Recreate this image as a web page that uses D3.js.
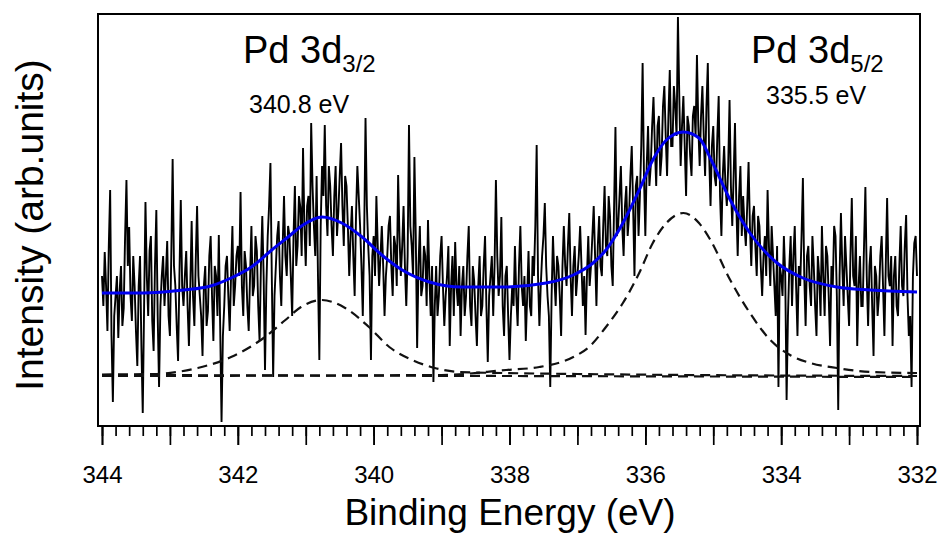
<!DOCTYPE html>
<html>
<head>
<meta charset="utf-8">
<script src="https://cdn.jsdelivr.net/npm/d3@7/dist/d3.min.js"></script>
<style>
	body { margin: 0; background: #fff; }
	text { font-family: "Liberation Sans", Arial, sans-serif; fill: #000; }
</style>
</head>
<body>
<svg id="chart" width="940" height="533"></svg>
<script>
// =================================================
// data (intensity in arbitrary units)
// =================================================
var energyStart = 344,
	energyStep = 0.02;

// raw spectrum, one value per energy step from 344 eV down to 332 eV
var counts = [
	150,120,174,140,95,180,236,90,24,110,130,150,88,135,160,100,118,190,246,160,
	199,130,105,170,140,95,60,140,170,80,13,120,224,150,110,175,190,105,75,160,
	216,110,39,120,150,170,120,150,185,110,90,170,267,160,140,100,65,150,226,140,
	120,150,175,120,80,140,205,130,100,165,220,150,130,110,70,140,160,100,115,170,
	190,130,85,160,150,110,191,100,4,90,120,160,170,130,95,150,200,120,140,170,
	180,150,234,140,110,175,160,120,95,150,200,130,140,190,175,120,85,160,210,150,
	56,140,190,220,263,150,49,130,160,190,205,150,120,180,230,170,150,200,190,150,
	110,190,240,160,180,230,219,170,278,200,160,220,230,180,303,240,200,170,250,150,
	66,200,260,230,301,220,190,260,240,200,170,230,260,190,215,250,283,220,180,250,
	240,200,150,190,220,170,130,210,260,230,200,160,110,190,308,220,180,150,66,170,
	190,150,230,180,140,170,200,160,110,150,170,200,210,160,130,190,180,140,251,190,
	150,180,220,160,120,170,301,200,180,150,269,190,78,160,200,130,140,180,170,120,
	206,150,110,160,44,120,160,110,130,170,190,140,100,130,150,180,80,140,170,110,
	184,140,120,160,90,140,160,110,130,170,200,120,100,160,145,110,80,140,170,110,
	120,160,190,120,64,130,150,170,110,160,246,170,130,150,209,120,90,150,160,110,
	66,110,140,120,180,130,100,160,200,140,120,150,85,130,175,120,110,170,150,200,
	281,150,100,140,170,190,223,160,130,110,39,130,190,150,120,170,160,130,90,160,
	200,160,140,180,213,150,110,160,180,130,150,170,200,160,120,150,91,150,190,140,
	160,190,220,170,120,180,210,160,150,200,240,180,170,230,210,160,140,220,299,190,
	200,230,260,200,170,220,240,190,210,250,280,220,150,240,250,190,230,280,363,250,
	190,260,300,240,260,300,329,280,240,300,310,250,270,320,340,290,250,310,356,280,
	280,340,320,290,409,330,260,300,330,280,230,310,300,270,250,310,320,290,371,300,
	260,310,340,290,250,320,363,270,220,280,300,250,240,290,330,230,190,250,280,240,
	220,260,326,240,200,250,303,220,170,230,260,190,230,200,180,220,264,200,160,210,
	220,180,150,210,200,160,130,170,190,150,236,180,140,200,170,140,110,180,39,160,
	150,130,190,150,26,110,160,190,120,170,200,140,90,160,140,190,248,150,100,170,
	180,140,120,190,160,120,90,170,150,110,200,150,110,180,170,130,80,160,140,200,
	190,130,16,150,213,160,120,190,160,130,100,170,228,150,140,190,80,140,170,120,
	120,180,239,150,100,160,180,120,70,160,150,110,130,170,190,140,90,160,228,150,
	140,170,80,150,170,120,110,160,200,140,130,180,211,130,90,110,39,150,183,190,150
];

// total fit (blue)
var fitEnergy = [344.0, 343.4, 342.8, 342.4, 342.1, 341.8, 341.5, 341.26, 341.04, 340.76,
	340.47, 340.17, 339.88, 339.58, 339.18, 338.7, 338.1, 337.46, 337.06, 336.77,
	336.58, 336.33, 336.09, 335.89, 335.69, 335.44, 335.21, 335.03, 334.75, 334.46,
	334.06, 333.68, 333.18, 332.69, 332.0];
var fitTotal = [133, 133, 136, 140, 148, 159, 176, 189, 201, 209,
	203, 189, 171, 156, 144, 139, 139, 143, 151, 163,
	176, 203, 236, 266, 286, 294, 288, 266, 226, 193,
	163, 148, 139, 136, 134];

// Pd 3d3/2 component (dashed)
var d32Energy = [344.0, 343.2, 342.9, 342.59, 342.1, 341.6, 341.3, 341.07, 340.76, 340.42,
	340.07, 339.77, 339.43, 339.1, 338.74, 338.1, 337.0, 332.0];
var d32Fit = [51.5, 52, 54, 58, 69, 89, 106, 119, 126, 118,
	99, 79, 66, 58, 54, 53, 52, 50];

// Pd 3d5/2 component (dashed)
var d52Energy = [344.0, 339.0, 338.05, 337.56, 337.06, 336.83, 336.58, 336.33, 336.09, 335.89,
	335.69, 335.44, 335.21, 335.05, 334.75, 334.46, 334.16, 333.87, 333.57, 333.18,
	332.69, 332.0];
var d52Fit = [50, 51, 56, 59, 69, 79, 99, 123, 153, 183,
	203, 213, 203, 187, 146, 113, 86, 71, 63, 58,
	54, 53];

// background (dashed)
var bgEnergy = [344.0, 332.0];
var bgFit = [51, 49];

var xMajor = [344, 342, 340, 338, 336, 334, 332];

// =================================================
// layout
// =================================================
var svg = d3.select("#chart");
var frame = { left: 98, right: 920, top: 14, bottom: 426 };

var x = d3.scaleLinear().domain([344, 332]).range([102, 917]);
var y = d3.scaleLinear().domain([0, 412]).range([frame.bottom, frame.top]);

svg.append("defs").append("clipPath").attr("id", "plotclip")
	.append("rect")
	.attr("x", frame.left).attr("y", frame.top)
	.attr("width", frame.right - frame.left)
	.attr("height", frame.bottom - frame.top);

var plot = svg.append("g").attr("clip-path", "url(#plotclip)");

// spectrum
var spectrum = counts.map(function(c, i) {
	return [energyStart - i * energyStep, c];
});
var rawLine = d3.line()
	.x(function(d) { return x(d[0]); })
	.y(function(d) { return y(d[1]); });

plot.append("path")
	.datum(spectrum)
	.attr("d", rawLine)
	.attr("fill", "none")
	.attr("stroke", "#000")
	.attr("stroke-width", 1.9);

// smooth fit curves
var smooth = d3.line()
	.x(function(d) { return x(d[0]); })
	.y(function(d) { return y(d[1]); })
	.curve(d3.curveMonotoneX);

function pairs(es, vs) {
	return es.map(function(e, i) { return [e, vs[i]]; });
}

[pairs(bgEnergy, bgFit), pairs(d32Energy, d32Fit), pairs(d52Energy, d52Fit)].forEach(function(p) {
	plot.append("path")
		.datum(p)
		.attr("d", smooth)
		.attr("fill", "none")
		.attr("stroke", "#111")
		.attr("stroke-width", 2.2)
		.attr("stroke-dasharray", "10,6");
});

plot.append("path")
	.datum(pairs(fitEnergy, fitTotal))
	.attr("d", smooth)
	.attr("fill", "none")
	.attr("stroke", "#0000f0")
	.attr("stroke-width", 3);

// frame
svg.append("rect")
	.attr("x", frame.left).attr("y", frame.top)
	.attr("width", frame.right - frame.left)
	.attr("height", frame.bottom - frame.top)
	.attr("fill", "none")
	.attr("stroke", "#000")
	.attr("stroke-width", 2);

// =================================================
// bottom axis: minor 0.2 eV, major 1 eV, labels every 2 eV
// =================================================
var axisG = svg.append("g").attr("transform", "translate(0," + frame.bottom + ")");

axisG.append("g")
	.call(d3.axisBottom(x).tickValues(d3.range(332, 344.001, 0.2)).tickSize(10).tickFormat(""));
axisG.append("g")
	.call(d3.axisBottom(x).tickValues(d3.range(332, 345, 1)).tickSize(19).tickFormat(""));
axisG.append("g")
	.call(d3.axisBottom(x).tickValues(xMajor).tickSize(19).tickPadding(21).tickFormat(d3.format("d")));

axisG.selectAll(".domain").remove();
axisG.selectAll(".tick line").attr("stroke", "#000").attr("stroke-width", 1.7);
axisG.selectAll(".tick text")
	.attr("font-size", 24)
	.attr("font-family", "\"Liberation Sans\", Arial, sans-serif")
	.attr("fill", "#000");

// axis titles
svg.append("text")
	.attr("x", 510).attr("y", 525)
	.attr("text-anchor", "middle")
	.attr("font-size", 37)
	.text("Binding Energy (eV)");

svg.append("text")
	.attr("transform", "translate(43,225) rotate(-90)")
	.attr("text-anchor", "middle")
	.attr("font-size", 39)
	.text("Intensity (arb.units)");

// =================================================
// peak labels
// =================================================
function peakLabel(px, py, sub) {
	var t = svg.append("text").attr("x", px).attr("y", py).attr("font-size", 38);
	t.append("tspan").text("Pd 3d");
	t.append("tspan").attr("font-size", 24).attr("dy", 9).text(sub);
}
peakLabel(243, 63, "3/2");
peakLabel(751, 63, "5/2");

svg.append("text").attr("x", 249).attr("y", 113).attr("font-size", 25).text("340.8 eV");
svg.append("text").attr("x", 766).attr("y", 104).attr("font-size", 25).text("335.5 eV");
</script>
</body>
</html>
